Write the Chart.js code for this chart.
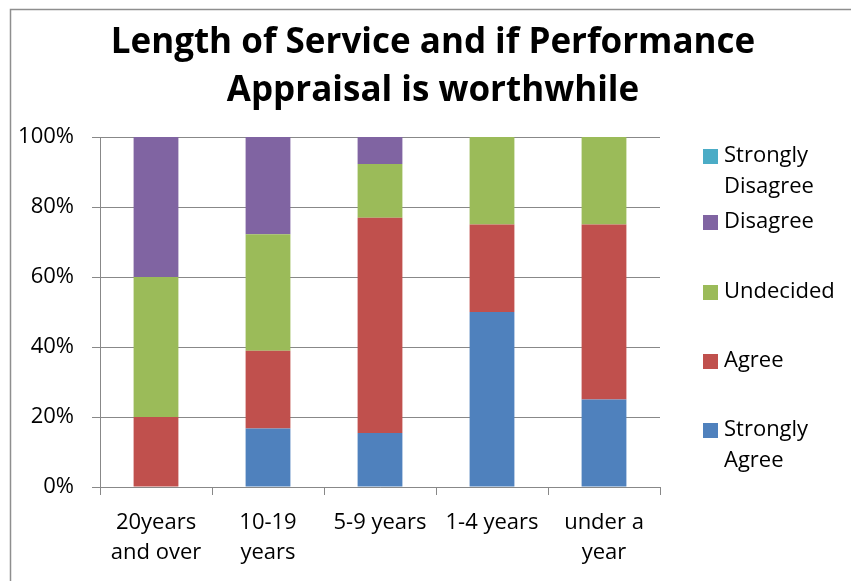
<!DOCTYPE html>
<html>
<head>
<meta charset="utf-8">
<script src="https://cdn.jsdelivr.net/npm/chart.js@4/dist/chart.umd.min.js"></script>
<style>
  body { margin: 0; background: #fff; }
  #grafico { display: block; }
</style>
</head>
<body>
<canvas id="grafico" width="851" height="581"></canvas>
<script>
const categorias = [['20years', 'and over'], ['10-19', 'years'], '5-9 years', '1-4 years', ['under a', 'year']];
const stronglyAgree    = [0, 16.7, 15.4, 50, 25];
const agree            = [20, 22.2, 61.5, 25, 50];
const undecided        = [40, 33.3, 15.4, 25, 25];
const disagree         = [40, 27.8, 7.7, 0, 0];
const stronglyDisagree = [0, 0, 0, 0, 0];
const yTicks = [0, 20, 40, 60, 80, 100];
const titulo = ['Length of Service and if Performance', 'Appraisal is worthwhile'];

const fonte = '"Open Sans", sans-serif';
const cinza = '#888888';

// legend in Excel style (reversed, labels can wrap)
const legendaItens = [
    { cor: '#4BACC6', linhas: ['Strongly', 'Disagree'], y: 156 },
    { cor: '#8064A2', linhas: ['Disagree'], y: 222 },
    { cor: '#9BBB59', linhas: ['Undecided'], y: 292 },
    { cor: '#C0504D', linhas: ['Agree'], y: 361 },
    { cor: '#4F81BD', linhas: ['Strongly', 'Agree'], y: 430 }
];

const moldura = {
    id: 'moldura',
    beforeDraw(chart) {
        const c = chart.ctx;
        c.save();
        c.fillStyle = '#fff';
        c.fillRect(0, 0, chart.width, chart.height);
        c.strokeStyle = '#8e8e8e';
        c.lineWidth = 1.5;
        c.beginPath();
        c.moveTo(10.5, chart.height + 5);
        c.lineTo(10.5, 9.5);
        c.lineTo(chart.width + 5, 9.5);
        c.stroke();
        c.restore();
    },
    afterDraw(chart) {
        const c = chart.ctx;
        c.save();
        // title, centred on the whole chart like Excel does
        c.font = 'bold 35px ' + fonte;
        c.textAlign = 'center';
        c.textBaseline = 'alphabetic';
        c.fillStyle = '#000';
        titulo.forEach((t, i) => c.fillText(t, 433, 53 + i * 48));

        const x = chart.chartArea.right + 43;
        c.font = '22px ' + fonte;
        c.textAlign = 'left';
        c.textBaseline = 'middle';
        legendaItens.forEach(item => {
            c.fillStyle = item.cor;
            c.fillRect(x, item.y - 7, 15, 15);
            c.fillStyle = '#000';
            item.linhas.forEach((t, i) => c.fillText(t, x + 21, item.y + i * 31));
        });
        c.restore();
    }
};

document.addEventListener('DOMContentLoaded', function () {
    const ctx = document.getElementById('grafico').getContext('2d');

    const series = [
        ['Strongly Agree', stronglyAgree, '#4F81BD'],
        ['Agree', agree, '#C0504D'],
        ['Undecided', undecided, '#9BBB59'],
        ['Disagree', disagree, '#8064A2'],
        ['Strongly Disagree', stronglyDisagree, '#4BACC6']
    ];

    new Chart(ctx, {
        type: 'bar',
        data: {
            labels: categorias,
            datasets: series.map(s => ({
                label: s[0],
                data: s[1],
                backgroundColor: s[2],
                barPercentage: 0.4,
                categoryPercentage: 1
            }))
        },
        options: {
            responsive: false,
            animation: false,
            layout: { padding: { left: 10, right: 191, top: 137, bottom: 0 } },
            plugins: {
                legend: { display: false },
                tooltip: { enabled: false },
                title: { display: false }
            },
            scales: {
                x: {
                    stacked: true,
                    afterFit: s => { s.height = 94; },
                    grid: { offset: true, drawOnChartArea: false, tickLength: 8, color: cinza },
                    border: { color: cinza },
                    ticks: { color: '#000', padding: 12, font: { family: fonte, size: 22, lineHeight: 1.4 }, maxRotation: 0 }
                },
                y: {
                    stacked: true,
                    min: 0,
                    max: 100,
                    afterFit: s => { s.width = 90; },
                    afterBuildTicks: s => { s.ticks = yTicks.map(v => ({ value: v })); },
                    grid: { tickLength: 8, color: cinza },
                    border: { color: cinza },
                    ticks: {
                        color: '#000',
                        padding: 18,
                        font: { family: fonte, size: 22 },
                        callback: v => v + '%'
                    }
                }
            }
        },
        plugins: [moldura]
    });
});
</script>
</body>
</html>
